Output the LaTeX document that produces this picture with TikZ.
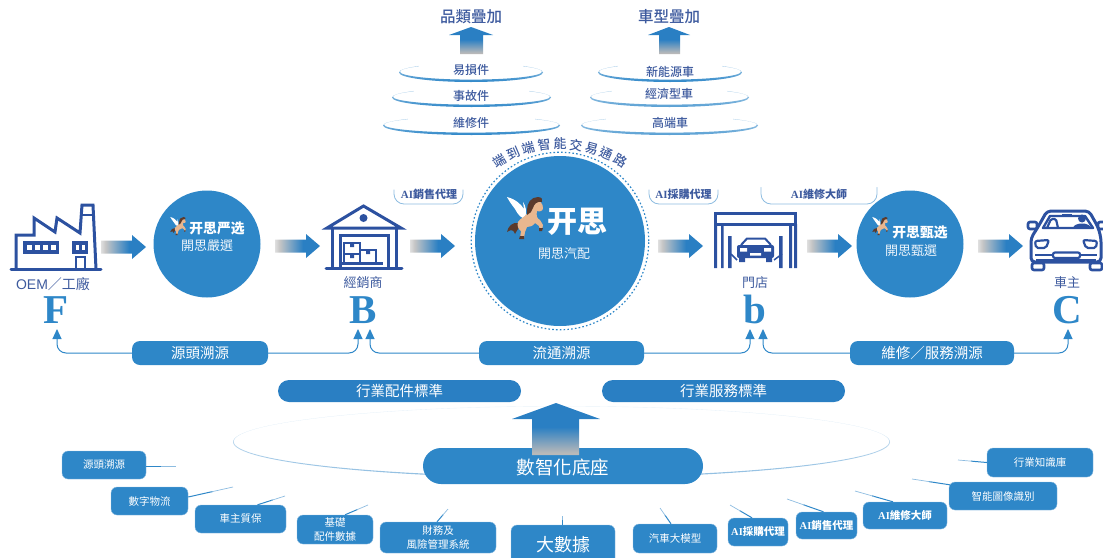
\documentclass[tikz,border=0pt]{standalone}
\usepackage{fontspec}
\setmainfont{Noto Sans CJK TC}
\newfontfamily\cjkmed{Noto Sans CJK TC Medium}
\newfontfamily\latinserif{Liberation Serif}
\newfontfamily\latinsans{Liberation Sans}
\usetikzlibrary{arrows.meta,calc}
\definecolor{boxblue}{HTML}{2E87C8}
\definecolor{pillblue}{HTML}{2A7FC3}
\definecolor{iconblue}{HTML}{2C51A0}
\definecolor{inkblue}{HTML}{3D5A9E}
\definecolor{paleline}{HTML}{8DBCE0}
\definecolor{horsetan}{HTML}{E9B78F}
\definecolor{horsebrown}{HTML}{5B3A2C}
\pgfdeclarehorizontalshading{hfade}{100bp}{color(0bp)=(white); color(25bp)=(white!75!gray); color(30bp)=(white!55!gray); color(56bp)=(pillblue); color(100bp)=(pillblue)}
\pgfdeclareverticalshading{vfade}{100bp}{color(0bp)=(white!45!gray); color(27bp)=(white!45!gray); color(52bp)=(pillblue); color(100bp)=(pillblue)}
\newcommand{\fs}[1]{\fontsize{#1}{#1}\selectfont}
\newcommand{\fl}[2]{\fontsize{#1}{#2}\selectfont}
\newcommand{\aitxt}{{\latinserif\bfseries AI}}
\newcommand{\hblock}[1]{\shade[shading=hfade,shift={(#1)}] (0,-6.5)--(31,-6.5)--(31,-12)--(45,0)--(31,12)--(31,6.5)--(0,6.5)--cycle;}
\newcommand{\ringell}[5]{\shade[even odd rule,top color=paleline!60!white,middle color=#5!65!white,bottom color=#5] (#1,#2) ellipse ({#3} and {#4}) (#1,#2-0.8) ellipse ({#3-0.9} and {#4-1.6});
\fill[white] ({#1-0.72*#3},{#2-#4-1}) rectangle ({#1+0.72*#3},{#2-0.45*#4});}
\newcommand{\upblock}[7]{\shade[shading=vfade] (#1,#2)--(#4,#3)--(#5,#3)--(#5,#6)--(#7,#6)--(#7,#3)--(2*#1-#4,#3)--cycle;}
\newcommand{\horse}[3]{\begin{scope}[shift={(#1,#2)},scale=#3]
\fill[white] (-18,-21)..controls (-10,-19) and (-4,-14)..(-1,-9)--(-2,-16)..controls (1,-12) and (2,-6)..(0,0)..controls (-3,1) and (-7,-3)..(-10,-9)..controls (-13,-13) and (-16,-17)..(-18,-21)--cycle;
\fill[horsebrown] (-7,5)..controls (-12,4) and (-17,8)..(-18,14)..controls (-14,11) and (-11,12)..(-10,16)..controls (-8,12) and (-6,10)..(-5,8)--cycle;
\fill[horsetan] (-7,4)..controls (-5,0) and (1,-1)..(3,-6)..controls (3,-11) and (6,-17)..(11,-18)..controls (15,-18) and (18,-14)..(18,-10)..controls (18,-7) and (15,-6)..(12,-7)..controls (11,-3) and (12,1)..(15,2)--(18,7)--(17,12)--(15,12)--(14,8)--(10,5)..controls (8,8) and (5,9)..(2,9)--(0,14)--(-1,20)--(-5,20)--(-4,13)..controls (-7,11) and (-8,8)..(-7,4)--cycle;
\fill[horsebrown] (2,-8)..controls (2,-15) and (6,-21)..(13,-21)..controls (17,-21) and (18,-18)..(17,-16)..controls (12,-17) and (9,-14)..(8,-10)..controls (7,-7) and (5,-4)..(2,-3)--cycle;
\fill[horsebrown] (-5,18)--(-1,18)--(-1,21)--(-6,21)--cycle;
\fill[horsebrown] (14,10)--(18,10)--(17,13)--(14,13)--cycle;
\end{scope}}
\tikzset{
 x=1pt,y=-1pt,
 filler/.style={circle,fill=boxblue,inner sep=0pt,minimum size=107pt},
 inktext/.style={text=inkblue,inner sep=0pt,font=\fs{13}},
 lighttext/.style={text=white!92!boxblue,inner sep=0pt,font=\fs{13}},
 bigletter/.style={text=boxblue,inner sep=0pt,anchor=base,font=\latinserif\bfseries\fs{41}},
 pillbox/.style={fill=pillblue,rounded corners=11pt,inner sep=0pt,text=white,font=\fs{14.5},minimum height=22pt},
 tracebox/.style={fill=boxblue,rounded corners=8pt,inner sep=0pt,text=white,font=\fs{14.5},minimum height=24pt},
 tagbox/.style={fill=boxblue,draw=paleline,line width=.4pt,rounded corners=6pt,inner sep=0pt,text=white,align=center,font=\fl{10.5}{14}},
 stem/.style={draw=boxblue,line width=1pt},
 stemfade/.style={draw=paleline,line width=.7pt},
 trace/.style={draw=boxblue,line width=1pt,rounded corners=9pt,-{Triangle[width=9pt,length=10pt]}},
 tabline/.style={draw=paleline,line width=.8pt,rounded corners=10pt},
 icon/.style={draw=iconblue,line width=3pt,line join=miter},
 iconfill/.style={fill=iconblue},
 arctext/.style={text=inkblue,inner sep=0pt,font=\cjkmed\fs{13}},
 tabtext/.style={text=inkblue,inner sep=0pt,font=\bfseries\fs{11}},
 headtext/.style={text=inkblue,inner sep=0pt,font=\cjkmed\fs{15.5}},
 optiontext/.style={text=inkblue,inner sep=0pt,font=\cjkmed\fs{12}},
}
\begin{document}
\begin{tikzpicture}
\useasboundingbox (0,0) rectangle (1103,557);
% top stacks
\node[headtext] (t1) at (471,17) {品類疊加};
\node[headtext] (t2) at (669,17) {車型疊加};
\upblock{471}{27}{35}{449}{460}{54}{483}
\upblock{669}{27}{35}{648}{659}{54}{680}
\ringell{471}{72.5}{72}{9.5}{boxblue}
\ringell{471.5}{97.5}{79.5}{9.5}{boxblue}
\ringell{471.5}{125.5}{88.5}{9.5}{boxblue}
\ringell{670}{72.5}{72}{9.5}{boxblue}
\ringell{669.5}{97.5}{79.5}{9.5}{boxblue!80!white}
\ringell{669.5}{125.5}{88.5}{9.5}{boxblue!80!white}
\node[optiontext] (a1) at (471,70) {易損件};
\node[optiontext] (a2) at (471,96) {事故件};
\node[optiontext] (a3) at (471,123) {維修件};
\node[optiontext] (b1) at (670,72) {新能源車};
\node[optiontext] (b2) at (669,94) {經濟型車};
\node[optiontext] (b3) at (670,123) {高端車};
% arc title
\foreach \c [count=\i] in {端,到,端,智,能,交,易,通,路}{
 \pgfmathsetmacro\a{121-(\i-1)*62/8}
 \pgfmathsetmacro\r{\a-90}
 \node[arctext,rotate=\r] (arc\i) at ({560+118*cos(\a)},{262-118*sin(\a)}) {\c};
}
% central circle
\node[circle,draw=boxblue,line width=1.2pt,dash pattern=on 1.6pt off 2.2pt,inner sep=0pt,minimum size=177.5pt] (ring) at (560,241) {};
\node[filler,minimum size=170pt] (hub) at (560,241) {};
\horse{525}{218}{1}
\node[text=white,inner sep=0pt,font=\bfseries\fs{30}] (hubname) at (577,222) {开思};
\node[lighttext] (hubsub) at (564,254) {開思汽配};
% side circles
\node[filler] (c1) at (207,244) {};
\horse{178}{226}{.43}
\node[text=white,inner sep=0pt,font=\bfseries\fs{13.8}] (c1a) at (217,228) {开思严选};
\node[lighttext] (c1b) at (207,246) {開思嚴選};
\node[filler] (c2) at (910,244) {};
\horse{880}{226}{.43}
\node[text=white,inner sep=0pt,font=\bfseries\fs{13.8}] (c2a) at (920,232) {开思甄选};
\node[lighttext] (c2b) at (911,251) {開思甄選};
% block arrows
\hblock{101,247}
\hblock{275,246}
\hblock{410,246}
\hblock{658,246}
\hblock{807,246}
\hblock{978,246}
% factory
\draw[icon,line cap=round] (11,269)--(101,269);
\draw[icon] (16,269)--(16,235)--(34,235)--(34,218)--(55,232)--(57,218)--(80,233)--(82,205)--(93,205)--(96,269);
\draw[line width=2pt,draw=iconblue] (81,215)--(94,215);
\fill[iconblue] (23,241) rectangle (59,254);
\foreach \xx in {27,35,43,51}{\fill[white] (\xx,245) rectangle +(4.5,5);}
\fill[iconblue] (72,241) rectangle (88,254);
\foreach \xx in {75.5,81.5}{\fill[white] (\xx,245) rectangle +(3.5,5);}
\draw[icon,line width=2.5pt] (76,269)--(76,257)--(85,257)--(85,269);
\fill[white] (85.5,207.5) rectangle (89.5,211);
% warehouse
\draw[icon] (327,228)--(363.5,206)--(401,228)--cycle;
\fill[iconblue] (363.5,218) circle (4);
\draw[icon] (332,228)--(332,268);
\draw[icon] (396,228)--(396,268);
\draw[icon] (340,268)--(340,235)--(388,235)--(388,268);
\draw[icon,line cap=round] (326,268)--(402,268);
\draw[icon,line width=2.4pt] (344,243) rectangle (360,254);
\draw[icon,line width=2.4pt] (344,254) rectangle (360,263);
\draw[icon,line width=2.4pt] (360,250) rectangle (376,263);
\fill[iconblue] (350,243) rectangle (354,247) (350,254) rectangle (354,258) (366,250) rectangle (370,254);
\draw[icon,line width=2.4pt] (342,263.5)--(383,263.5);
% garage
\draw[icon] (715.5,213.5) rectangle (795.5,224);
\fill[iconblue] (714,224) rectangle (717,268) (721,224) rectangle (723.5,268) (789,224) rectangle (792,268) (794,224) rectangle (797,268);
\fill[iconblue] (728,236) rectangle (731.5,268) (779,236) rectangle (782.5,268);
\draw[iconblue,line width=2pt] (741,245)--(747,238.5)--(765,238.5)--(771,245);
\fill[iconblue,rounded corners=2pt] (737,245) rectangle (774,258);
\fill[white] (740,248) rectangle (747,251.5) (764,248) rectangle (771,251.5) (750,253) rectangle (761,255.5);
\fill[iconblue] (739,258) rectangle (745,262) (766,258) rectangle (772,262);
\draw[iconblue,line width=1.5pt] (731,254)--(737,260) (782,254)--(774,260);
% car
\begin{scope}
\clip (1020,200) rectangle (1103,280);
\draw[icon,line width=3pt,rounded corners=4pt,line join=round] (1031,262)--(1031,238)--(1038,227)--(1047,211)--(1089,211)--(1098,227)--(1101,238)--(1101,262)--cycle;
\draw[icon,line width=2.6pt,rounded corners=2pt] (1028,222) rectangle (1037,229);
\draw[icon,line width=2.6pt,rounded corners=2pt] (1098,222) rectangle (1108,229);
\draw[icon,line width=2.6pt,rounded corners=2pt] (1032,263) rectangle (1044,270);
\draw[icon,line width=2.6pt,rounded corners=2pt] (1090,263) rectangle (1102,270);
\draw[icon,line width=2.4pt,line join=round] (1043,228)--(1050,216)--(1085,216)--(1093,228)--cycle;
\draw[icon,line width=2.2pt,rounded corners=1.5pt] (1047,228)--(1051,219)--(1056,219)--(1058,228);
\fill[iconblue] (1062,214) rectangle (1072,217);
\fill[iconblue] (1082,218.5) circle (4);
\fill[iconblue] (1073,228) .. controls (1074,222) and (1090,222) .. (1091,228) -- cycle;
\draw[icon,line width=2.2pt,rounded corners=2pt,line join=round] (1035,241)--(1049,240)--(1046,248)--(1036,248)--cycle;
\draw[icon,line width=2.2pt,rounded corners=2pt,line join=round] (1097,241)--(1083,240)--(1086,248)--(1096,248)--cycle;
\draw[icon,line width=2.2pt,rounded corners=2pt] (1053,252.5) rectangle (1080,258);
\draw[icon,line width=1.8pt] (1035,255)--(1053,255) (1080,255)--(1097,255);
\draw[icon,line width=1.8pt] (1036,260)--(1096,260);
\end{scope}
% entity labels
\node[inktext,font=\fs{14}] (L1) at (53,284) {{\latinsans OEM}／工廠};
\node[inktext] (L2) at (363,283) {經銷商};
\node[inktext] (L3) at (755,283) {門店};
\node[inktext] (L4) at (1067,283) {車主};
\node[bigletter] (F) at (56,323) {F};
\node[bigletter] (B) at (363,323) {B};
\node[bigletter] (b) at (755,323) {b};
\node[bigletter] (C) at (1067,323) {C};
% AI tabs
\draw[tabline] (394,186)--(394,204)--(463,204)--(463,186);
\draw[tabline] (649,186)--(649,204)--(718,204)--(718,186);
\draw[tabline] (761,184)--(761,204)--(877,204)--(877,184);
\fill[white] (385,180) rectangle (470,189.5) (640,180) rectangle (725,189.5) (752,176) rectangle (885,187);
\node[tabtext] (tab1) at (429,194) {\aitxt 銷售代理};
\node[tabtext] (tab2) at (683.5,194) {\aitxt 採購代理};
\node[tabtext] (tab3) at (819,194) {\aitxt 維修大師};
% trace row
\coordinate (tipF) at (57,329);
\coordinate (tipBl) at (358,329);
\coordinate (tipBr) at (370,329);
\coordinate (tipbl) at (750,329);
\coordinate (tipbr) at (763,329);
\coordinate (tipC) at (1068,329);
\node[tracebox,minimum width=136pt] (s1) at (200,353) {源頭溯源};
\node[tracebox,minimum width=165pt] (s2) at (561.5,353) {流通溯源};
\node[tracebox,minimum width=164pt] (s3) at (932,353) {維修／服務溯源};
\draw[trace] (s1.west) -| (tipF);
\draw[trace] (s1.east) -| (tipBl);
\draw[trace] (s2.west) -| (tipBr);
\draw[trace] (s2.east) -| (tipbl);
\draw[trace] (s3.west) -| (tipbr);
\draw[trace] (s3.east) -| (tipC);
% standards
\node[pillbox,minimum width=243pt] (std1) at (399.5,391) {行業配件標準};
\node[pillbox,minimum width=243pt] (std2) at (723.5,391) {行業服務標準};
% base
\shade[even odd rule,top color=paleline!18!white,middle color=paleline!60!white,bottom color=paleline] (561.5,442) ellipse ({328.5} and {36}) (561.5,441.6) ellipse ({327.8} and {35.2});
\node[fill=boxblue,rounded corners=18pt,inner sep=0pt,minimum width=280pt,minimum height=36pt] (base) at (563,466) {};
\upblock{556}{403}{419}{512}{532}{455}{579}
\node[text=white,inner sep=0pt,font=\fs{18.5}] (basetxt) at (563,467) {數智化底座};
% tags
\node[tagbox,minimum width=84pt,minimum height=28pt] (g1) at (104,465) {源頭溯源};
\node[tagbox,minimum width=77pt,minimum height=28pt] (g2) at (149.5,501) {數字物流};
\node[tagbox,minimum width=91pt,minimum height=28pt] (g3) at (240.5,519) {車主質保};
\node[tagbox,minimum width=76pt,minimum height=29pt] (g4) at (335,529.5) {基礎\\配件數據};
\node[tagbox,minimum width=116pt,minimum height=31pt] (g5) at (438,537.5) {財務及\\風險管理系統};
\node[tagbox,minimum width=104pt,minimum height=40pt,font=\fs{18}] (g6) at (563,545) {大數據};
\node[tagbox,minimum width=84pt,minimum height=29pt] (g7) at (675,538.5) {汽車大模型};
\node[tagbox,minimum width=60pt,minimum height=28pt,font=\bfseries\fs{10.5}] (g8) at (758,532) {\aitxt 採購代理};
\node[tagbox,minimum width=61pt,minimum height=27pt,font=\bfseries\fs{10.5}] (g9) at (826.5,525.5) {\aitxt 銷售代理};
\node[tagbox,minimum width=84pt,minimum height=27pt,font=\bfseries\fs{10.5}] (g10) at (905,515.5) {\aitxt 維修大師};
\node[tagbox,minimum width=108pt,minimum height=28pt] (g11) at (1003,496) {智能圖像識別};
\node[tagbox,minimum width=106pt,minimum height=29pt] (g12) at (1040,462.5) {行業知識庫};
% stems
\foreach \nm/\an/\dx/\dy/\ex/\ey in {g1/east/0/1/176/466, g2/east/0/-4/233/487, g3/north/17/0/285/496, g4/north/10/0/368/505, g5/north/-1/0/448/509, g6/north/-1/0/562/516, g7/north/-4/0/660/508, g8/north/-6/0/730/505, g9/north/-3/0/787/499, g10/north/-12/0/855/491, g11/north west/1/3/912/479, g12/west/0/0/958/460}{
 \coordinate (e\nm) at (\ex,\ey);
 \coordinate (s\nm) at ([xshift=\dx pt,yshift=-\dy pt]\nm.\an);
 \draw[stem] (s\nm)--($(s\nm)!.55!(e\nm)$);
 \draw[stemfade] ($(s\nm)!.5!(e\nm)$)--(e\nm);
}
\end{tikzpicture}
\end{document}
